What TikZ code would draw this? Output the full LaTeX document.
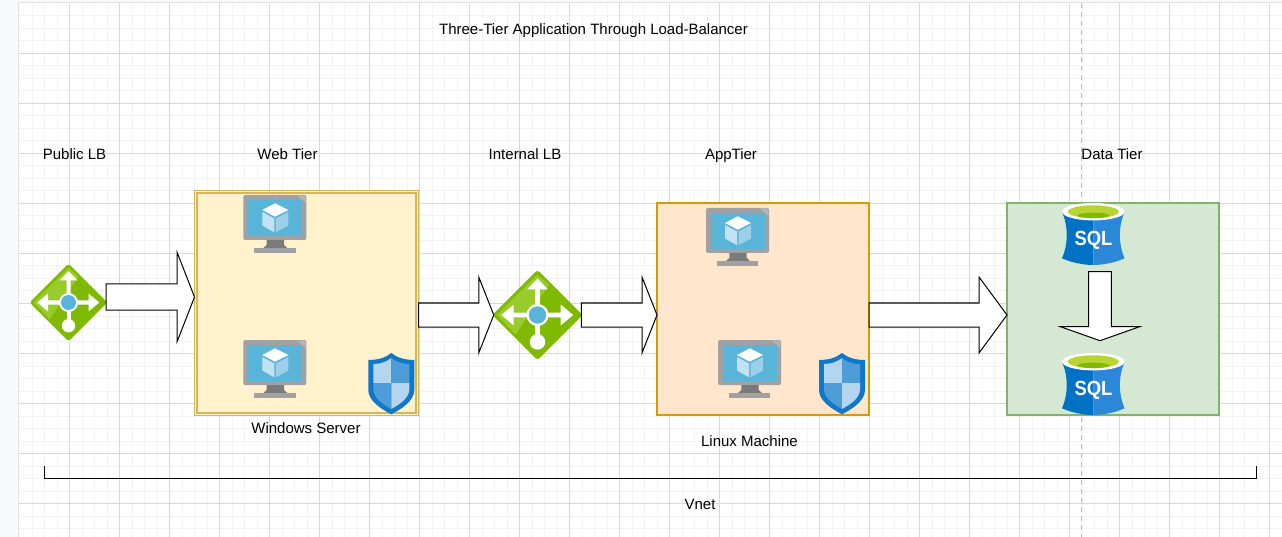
\documentclass[tikz,border=0pt]{standalone}
\usepackage{fontspec}
\setmainfont{Liberation Sans}
\usetikzlibrary{positioning,calc,shapes.geometric}

\definecolor{pageGrey}{HTML}{F8F9FB}
\definecolor{edgeGrey}{HTML}{E2E2E2}
\definecolor{gridMajorGrey}{HTML}{D9D9D9}
\definecolor{gridMinorGrey}{HTML}{F3F3F3}
\definecolor{guideGrey}{HTML}{BDBDBD}
\definecolor{webFill}{HTML}{FFF2CC}
\definecolor{webEdge}{HTML}{D6B656}
\definecolor{appFill}{HTML}{FFE6CC}
\definecolor{appEdge}{HTML}{D79B00}
\definecolor{dataFill}{HTML}{D5E8D4}
\definecolor{dataEdge}{HTML}{82B366}
\definecolor{azureGreen}{HTML}{7FBA00}
\definecolor{azureLime}{HTML}{98CB2C}
\definecolor{azureCyan}{HTML}{59B4D9}
\definecolor{azureBlue}{HTML}{0072C6}
\definecolor{azureSky}{HTML}{2B88D8}
\definecolor{sqlLime}{HTML}{B8D432}
\definecolor{monitorGrey}{HTML}{A0A1A2}
\definecolor{monitorLight}{HTML}{B3B4B5}
\definecolor{standGrey}{HTML}{7A7A7A}
\definecolor{cubeLight}{HTML}{C3E2F1}
\definecolor{cubeMid}{HTML}{9CD0E8}
\definecolor{shieldEdge}{HTML}{0F78C9}
\definecolor{shieldLight}{HTML}{B3D5EE}
\definecolor{shieldMid}{HTML}{4E9CD8}

\tikzset{
  vmIcon/.pic={
    \fill[monitorGrey, rounded corners=2pt] (0,0) rectangle (63,45);
    \fill[monitorLight] (54,0.5) -- (62,0.5) -- (62.5,8) -- cycle;
    \fill[azureCyan] (4.7,5) rectangle (59,41);
    \fill[sqlLime] (31.5,2.5) circle (0.6);
    \fill[standGrey] (23.4,45) -- (40.7,45) -- (40.7,50) -- (44,53) -- (20,53) -- (23.4,50) -- cycle;
    \fill[monitorGrey] (10.7,53) rectangle (52.4,58);
    \fill[white] (31.7,8.3) -- (45,15) -- (31.7,21.7) -- (19,15) -- cycle;
    \fill[cubeLight] (19,17) -- (31,23.5) -- (31,37.3) -- (19,30.5) -- cycle;
    \fill[cubeMid] (32.5,23.5) -- (45,17) -- (45,30.5) -- (32.5,37.3) -- cycle;
  },
  shieldIcon/.pic={
    \fill[shieldEdge] (0,0) .. controls (-6,5) and (-14,7) .. (-23,7) -- (-23,37)
      .. controls (-23,48) and (-10,56) .. (0,61.3)
      .. controls (10,56) and (23,48) .. (23,37) -- (23,7)
      .. controls (14,7) and (6,5) .. (0,0) -- cycle;
    \fill[shieldLight] (0,5) .. controls (-5,9) and (-11,11) .. (-18,11) -- (-18,30) -- (0,30) -- cycle;
    \fill[shieldMid] (0,5) .. controls (5,9) and (11,11) .. (18,11) -- (18,30) -- (0,30) -- cycle;
    \fill[shieldMid] (-18,30) -- (0,30) -- (0,56) .. controls (-9,51) and (-18,45) .. (-18,36) -- cycle;
    \fill[shieldLight] (18,30) -- (0,30) -- (0,56) .. controls (9,51) and (18,45) .. (18,36) -- cycle;
  },
  lbIcon/.pic={
    \fill[azureLime] (-35,0) -- (0,-35) -- (10,-26) -- (-19,17) -- cycle;
    \fill[white] (0,-31.5) -- (9,-22) -- (2,-22) -- (2,-8) -- (-2,-8) -- (-2,-22) -- (-9,-22) -- cycle;
    \fill[white] (-31.2,0) -- (-20.5,-9) -- (-20.5,-2) -- (-8,-2) -- (-8,2) -- (-20.5,2) -- (-20.5,9) -- cycle;
    \fill[white] (30.7,0) -- (20,-9) -- (20,-2) -- (8,-2) -- (8,2) -- (20,2) -- (20,9) -- cycle;
    \fill[white] (-2,8) rectangle (2,20);
    \fill[white] (0,23.2) circle (6.7);
    \fill[white] (0,0) circle (9.5);
    \fill[azureCyan] (0,0) circle (7.5);
  },
  sqlIcon/.pic={
    \fill[azureBlue] (0,-22) -- (-31.3,-22) .. controls (-25,-8) and (-25,10) .. (-31.3,24.3)
      .. controls (-22,28.5) and (-10,31) .. (0,31) -- cycle;
    \fill[azureSky] (0,-22) -- (31.3,-22) .. controls (25,-8) and (25,10) .. (31.3,24.3)
      .. controls (22,28.5) and (10,31) .. (0,31) -- cycle;
    \fill[white] (0,-22.3) ellipse (31.3 and 8.7);
    \fill[sqlLime] (0,-22.3) ellipse (25.5 and 6.4);
    \fill[azureGreen] (0,-18.6) ellipse (16 and 2.7);
    \node[sqlText] (word) at (0.2,6) {SQL};
  },
  gridMinor/.style={gridMinorGrey, line width=1pt},
  gridMajor/.style={gridMajorGrey, line width=1pt},
  label/.style={font=\fontsize{15}{17}\selectfont, inner sep=0pt, anchor=base},
  sqlText/.style={font=\fontsize{20.5}{23}\selectfont\bfseries, text=white, inner sep=0pt,
                  transform shape, xscale=0.9},
  tierBox/.style={rectangle, inner sep=0pt, outer sep=0pt, minimum width=212pt, minimum height=212pt, line width=1.3pt},
  lbNode/.style={diamond, fill=azureGreen, inner sep=0pt, outer sep=-1pt, rounded corners=3pt},
  sqlNode/.style={rectangle, inner sep=0pt, outer sep=0pt, minimum width=63pt, minimum height=62pt},
  blockArrow/.style n args={3}{draw=black, fill=white, line width=1pt, to path={
    ($(\tikztostart)!#1!90:(\tikztotarget)$)
    -- ($($(\tikztotarget)!#3!(\tikztostart)$)!#1!90:(\tikztotarget)$)
    -- ($($(\tikztotarget)!#3!(\tikztostart)$)!#2!90:(\tikztotarget)$)
    -- (\tikztotarget)
    -- ($($(\tikztotarget)!#3!(\tikztostart)$)!#2!-90:(\tikztotarget)$)
    -- ($($(\tikztotarget)!#3!(\tikztostart)$)!#1!-90:(\tikztotarget)$)
    -- ($(\tikztostart)!#1!-90:(\tikztotarget)$) -- cycle}}
}

\begin{document}
\begin{tikzpicture}[x=1pt, y=-1pt]
  \useasboundingbox (0,0) rectangle (1282,537);

  % Page and grid
  \fill[pageGrey] (0,0) rectangle (1282,537);
  \fill[white] (19,3) rectangle (1282,537);
  \draw[edgeGrey, line width=1pt] (18.5,537) -- (18.5,2.5) -- (1282,2.5);
  \foreach \k in {1,...,100} {
    \draw[gridMinor] ({19.5+12.5*\k},3) -- ({19.5+12.5*\k},537);
  }
  \foreach \k in {1,...,42} {
    \draw[gridMinor] (19,{3.5+12.5*\k}) -- (1282,{3.5+12.5*\k});
  }
  \foreach \k in {1,...,25} {
    \draw[gridMajor] ({19.5+50*\k},3) -- ({19.5+50*\k},537);
  }
  \foreach \k in {1,...,10} {
    \draw[gridMajor] (19,{3.5+50*\k}) -- (1282,{3.5+50*\k});
  }
  \coordinate (guideTop) at (1081.5,3);
  \coordinate (guideEnd) at (1081.5,537);
  \draw[guideGrey, line width=1pt, dash pattern=on 5pt off 4pt] (guideTop) -- (guideEnd);

  % Tier boxes
  \node[tierBox, draw=webEdge, fill=webFill, line width=1.1pt,
        minimum width=224pt, minimum height=225pt] (webBox) at (306.5,303) {};
  \draw[webEdge, line width=1.1pt] ($(webBox.north west)+(2.5,2.5)$) rectangle ($(webBox.south east)+(-2.5,-2.5)$);
  \node[tierBox, draw=appEdge, fill=appFill] (appBox) at (763,309) {};
  \node[tierBox, draw=dataEdge, fill=dataFill] (dataBox) at (1113,309) {};

  % Load balancers
  \node[lbNode, minimum size=77pt] (lbPublic) at (68.5,302.5) {};
  \node[lbNode, minimum size=89.5pt] (lbInternal) at (537.5,315) {};
  \pic (lbPublicGlyph) at (lbPublic) {lbIcon};
  \pic[scale=1.16] (lbInternalGlyph) at (lbInternal) {lbIcon};

  % Virtual machines and shields
  \pic (vmWebA) at (243.3,195) {vmIcon};
  \pic (vmWebB) at (243.3,340) {vmIcon};
  \pic (vmAppA) at (706,208) {vmIcon};
  \pic (vmAppB) at (718,340) {vmIcon};
  \pic (shieldWeb) at (391.3,353) {shieldIcon};
  \pic (shieldApp) at (842,353) {shieldIcon};

  % Databases
  \node[sqlNode] (sqlPrimary) at (1093.3,234) {};
  \node[sqlNode] (sqlReplica) at (1093.3,384) {};
  \pic (sqlPrimaryGlyph) at (sqlPrimary) {sqlIcon};
  \pic (sqlReplicaGlyph) at (sqlReplica) {sqlIcon};

  % Flow arrows
  \coordinate (webIn) at ($(webBox.west)+(0,-6)$);
  \coordinate (appIn) at (appBox.west |- lbInternal.east);
  \coordinate (dataIn) at (dataBox.west |- lbInternal.east);
  \coordinate (replOut) at ($(sqlPrimary.south)+(6.7,6.7)$);
  \coordinate (replIn) at ($(sqlReplica.north)+(6.7,-12.3)$);
  \draw[blockArrow={13pt}{45pt}{17.5pt}] (lbPublic.east |- webIn) to (webIn);
  \draw[blockArrow={12pt}{38pt}{15pt}] (webBox.east |- lbInternal.west) to (lbInternal.west);
  \draw[blockArrow={12pt}{38pt}{15pt}] (lbInternal.east) to (appIn);
  \draw[blockArrow={12pt}{38pt}{28pt}] (appBox.east |- appIn) to (dataIn);
  \draw[blockArrow={11.3pt}{39.6pt}{14pt}] (replOut) to (replIn);

  % Vnet bracket
  \coordinate (vnetLeft) at (44.5,465.5);
  \coordinate (vnetRight) at (1256.5,465.5);
  \draw[black, line width=1pt] (vnetLeft) -- ++(0,12.5) -| (vnetRight);

  % Labels
  \node[label] (title) at (593.5,35) {Three-Tier Application Through Load-Balancer};
  \node[label] (publicLabel) at (74.5,160) {Public LB};
  \node[label] (webLabel) at (287.5,160) {Web Tier};
  \node[label] (internalLabel) at (525,160) {Internal LB};
  \node[label] (appLabel) at (731,160) {AppTier};
  \node[label] (dataLabel) at (1112,160) {Data Tier};
  \node[label] (windowsLabel) at (306,433.5) {Windows Server};
  \node[label] (linuxLabel) at (749.5,446) {Linux Machine};
  \node[label] (vnetLabel) at (700,509) {Vnet};
\end{tikzpicture}
\end{document}
